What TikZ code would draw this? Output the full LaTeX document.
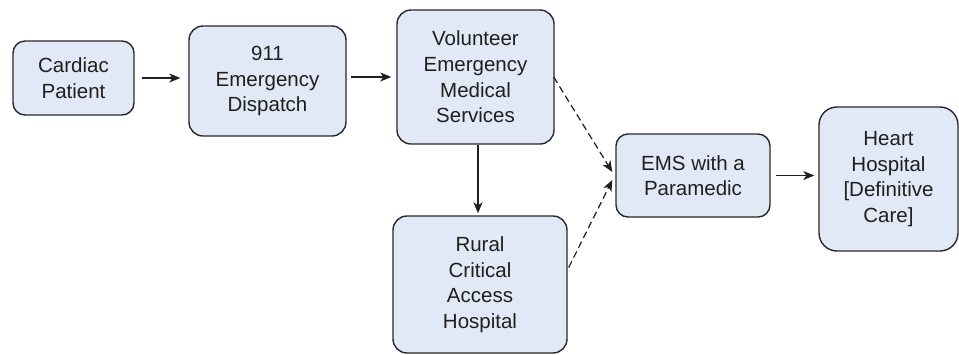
\documentclass[tikz,border=0pt]{standalone}
\usepackage{fontspec}
\setmainfont{Liberation Sans}
\usetikzlibrary{arrows.meta,calc}
\definecolor{boxfill}{RGB}{226,233,246}
\definecolor{boxline}{RGB}{40,40,40}
\begin{document}
\begin{tikzpicture}[x=1pt,y=-1pt,
  box/.style={draw=boxline,line width=1.4pt,fill=boxfill,rounded corners=14pt,
    align=center,inner sep=0pt,font=\fontsize{20.5}{25.6}\selectfont,text=black!88},
  conn/.style={draw=black!88,line width=1.2pt,-{Stealth[length=11pt,width=9pt,inset=3pt]}},
  dconn/.style={conn,dash pattern=on 7pt off 4pt}]
\fill[white] (0,0) rectangle (959,354);
\useasboundingbox (0,0) rectangle (959,354);
\node[box,minimum width=121pt,minimum height=74pt,rounded corners=12pt] (cardiac) at (73.5,78) {Cardiac\\Patient};
\node[box,minimum width=157pt,minimum height=110pt] (dispatch) at (267.5,81) {911\\Emergency\\Dispatch};
\node[box,minimum width=157pt,minimum height=134pt] (vol) at (475.5,77) {Volunteer\\Emergency\\Medical\\Services};
\node[box,minimum width=174pt,minimum height=137pt] (rural) at (480,284.5) {Rural\\Critical\\Access\\Hospital};
\node[box,minimum width=154pt,minimum height=83pt,rounded corners=12pt] (ems) at (693,175.5) {EMS with a\\Paramedic};
\node[box,minimum width=139pt,minimum height=144pt,rounded corners=18pt] (heart) at (888.5,179) {Heart\\Hospital\\{[}Definitive\\Care{]}};
\draw[conn,shorten <=7pt,shorten >=8pt] (cardiac) -- (cardiac -| dispatch.west);
\draw[conn,shorten <=4pt,shorten >=5pt] (dispatch.east |- vol.east) -- (vol.east -| vol.west);
\draw[conn,shorten >=2pt] (vol.south -| 478,0) -- (rural.north -| 478,0);
\draw[conn,shorten <=5pt,shorten >=4pt] (ems) -- (ems -| heart.west);
\coordinate (e1) at ($(ems.west)+(-3,-3.5)$);
\coordinate (e2) at ($(ems.west)+(-3,4.5)$);
\coordinate (r1) at ($(rural.east)+(1,-17)$);
\draw[dconn] ($(vol.east)+(-1,0)$) -- (e1);
\draw[dconn] (r1) -- (e2);
\end{tikzpicture}
\end{document}
